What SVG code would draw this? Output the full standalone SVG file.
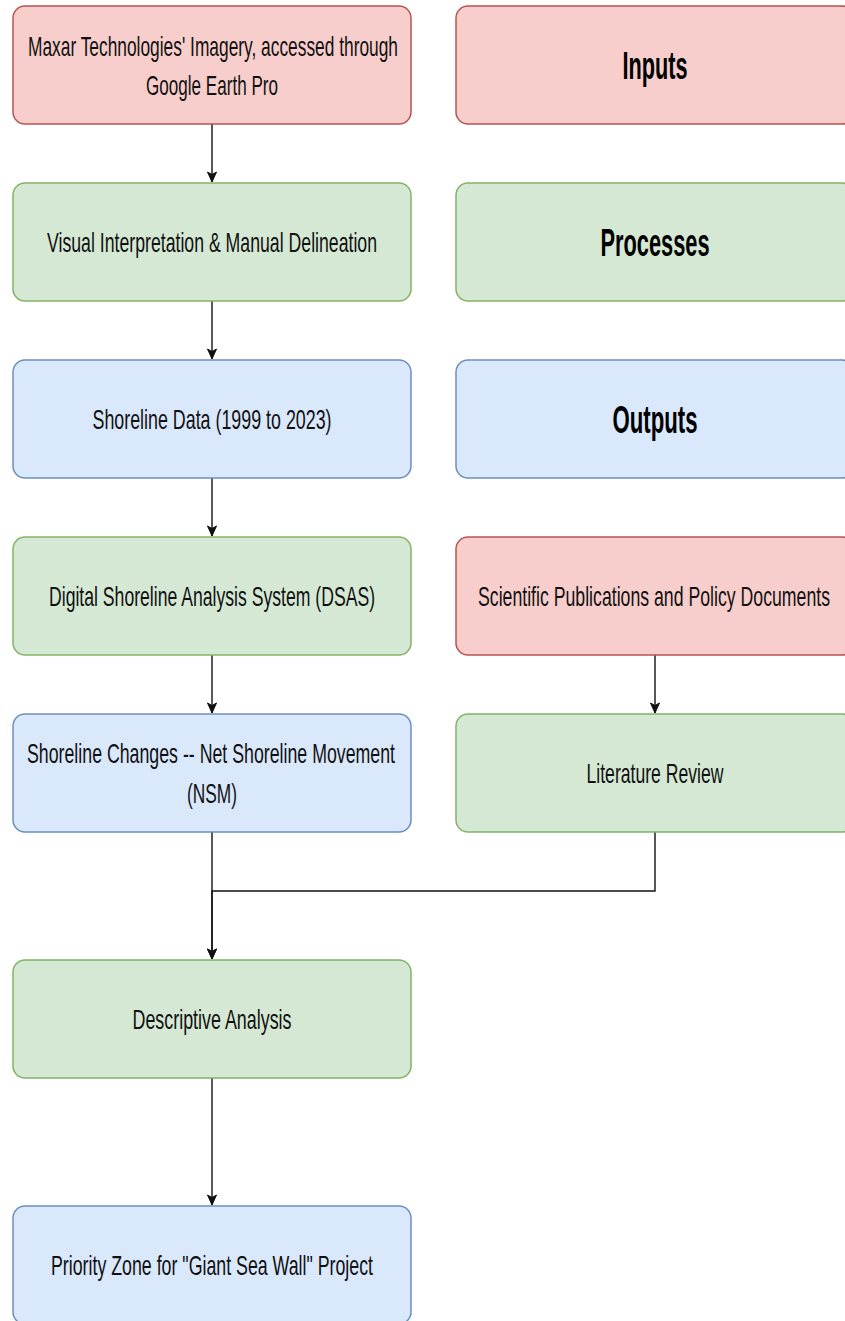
<svg xmlns="http://www.w3.org/2000/svg" width="845" height="1321" viewBox="0 0 845 1321">
<style>
.red{fill:#f8cecc;stroke:#b85450;stroke-width:1.5}
.green{fill:#d5e8d4;stroke:#82b366;stroke-width:1.5}
.blue{fill:#dae8fc;stroke:#6c8ebf;stroke-width:1.5}
.t{font-family:"Liberation Sans",Arial,sans-serif;font-size:17px;fill:#111;text-anchor:middle}
.b{font-family:"Liberation Sans",Arial,sans-serif;font-size:21.5px;font-weight:bold;fill:#000;text-anchor:middle}
.e{fill:none;stroke:#111;stroke-width:1.4}
</style>
<defs>
<marker id="arr" markerUnits="userSpaceOnUse" markerWidth="12" markerHeight="12" viewBox="0 0 12 12" refX="11" refY="6" orient="auto">
<path d="M1,1.5 L11,6 L1,10.5 L3.5,6 Z" fill="#111" stroke="#111" stroke-width="1"/>
</marker>
</defs>
<rect width="845" height="1321" fill="#ffffff"/>
<g id="connectors">
<path class="e" d="M212,124 V182" marker-end="url(#arr)"/>
<path class="e" d="M212,301 V359" marker-end="url(#arr)"/>
<path class="e" d="M212,478 V536" marker-end="url(#arr)"/>
<path class="e" d="M212,655 V713" marker-end="url(#arr)"/>
<path class="e" d="M655,655 V713" marker-end="url(#arr)"/>
<path class="e" d="M212,832 V959" marker-end="url(#arr)"/>
<path class="e" d="M655,832 V891 H212 V959" stroke-width="2" marker-end="url(#arr)"/>
<path class="e" d="M212,1078 V1205" marker-end="url(#arr)"/>
</g>
<g id="maxar">
<rect class="red" x="13" y="6" width="398" height="118" rx="12"/>
<text class="t" transform="translate(213,56) scale(1,1.65)" textLength="370" lengthAdjust="spacingAndGlyphs">Maxar Technologies' Imagery, accessed through</text>
<text class="t" transform="translate(212,95) scale(1,1.65)" textLength="132" lengthAdjust="spacingAndGlyphs">Google Earth Pro</text>
</g>
<g id="inputs">
<rect class="red" x="456" y="6" width="398" height="118" rx="12"/>
<text class="b" transform="translate(655,79) scale(1,1.77)" textLength="65" lengthAdjust="spacingAndGlyphs">Inputs</text>
</g>
<g id="visual">
<rect class="green" x="13" y="183" width="398" height="118" rx="12"/>
<text class="t" transform="translate(212,252) scale(1,1.65)" textLength="330" lengthAdjust="spacingAndGlyphs">Visual Interpretation &amp; Manual Delineation</text>
</g>
<g id="processes">
<rect class="green" x="456" y="183" width="398" height="118" rx="12"/>
<text class="b" transform="translate(655,256) scale(1,1.77)" textLength="109" lengthAdjust="spacingAndGlyphs">Processes</text>
</g>
<g id="shoreline-data">
<rect class="blue" x="13" y="360" width="398" height="118" rx="12"/>
<text class="t" transform="translate(212,429) scale(1,1.65)" textLength="239" lengthAdjust="spacingAndGlyphs">Shoreline Data (1999 to 2023)</text>
</g>
<g id="outputs">
<rect class="blue" x="456" y="360" width="398" height="118" rx="12"/>
<text class="b" transform="translate(655,433) scale(1,1.77)" textLength="85" lengthAdjust="spacingAndGlyphs">Outputs</text>
</g>
<g id="dsas">
<rect class="green" x="13" y="537" width="398" height="118" rx="12"/>
<text class="t" transform="translate(212,606) scale(1,1.65)" textLength="326" lengthAdjust="spacingAndGlyphs">Digital Shoreline Analysis System (DSAS)</text>
</g>
<g id="scientific">
<rect class="red" x="456" y="537" width="398" height="118" rx="12"/>
<text class="t" transform="translate(654,606) scale(1,1.65)" textLength="352" lengthAdjust="spacingAndGlyphs">Scientific Publications and Policy Documents</text>
</g>
<g id="nsm">
<rect class="blue" x="13" y="714" width="398" height="118" rx="12"/>
<text class="t" transform="translate(211,763) scale(1,1.65)" textLength="368" lengthAdjust="spacingAndGlyphs">Shoreline Changes -- Net Shoreline Movement</text>
<text class="t" transform="translate(212,803) scale(1,1.65)" textLength="50" lengthAdjust="spacingAndGlyphs">(NSM)</text>
</g>
<g id="literature">
<rect class="green" x="456" y="714" width="398" height="118" rx="12"/>
<text class="t" transform="translate(655,783) scale(1,1.65)" textLength="137" lengthAdjust="spacingAndGlyphs">Literature Review</text>
</g>
<g id="descriptive">
<rect class="green" x="13" y="960" width="398" height="118" rx="12"/>
<text class="t" transform="translate(212,1029) scale(1,1.65)" textLength="159" lengthAdjust="spacingAndGlyphs">Descriptive Analysis</text>
</g>
<g id="priority">
<rect class="blue" x="13" y="1206" width="398" height="118" rx="12"/>
<text class="t" transform="translate(212,1275) scale(1,1.65)" textLength="322" lengthAdjust="spacingAndGlyphs">Priority Zone for "Giant Sea Wall" Project</text>
</g>
</svg>
